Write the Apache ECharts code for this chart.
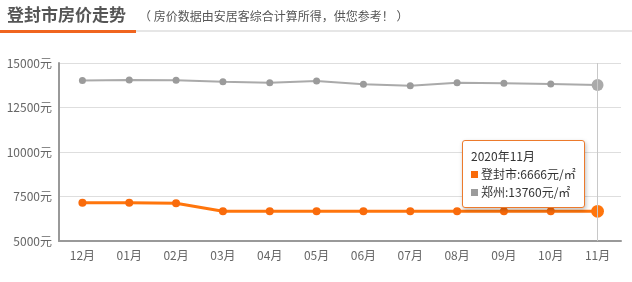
<!DOCTYPE html>
<html>
<head>
<meta charset="utf-8">
<script src="https://cdn.jsdelivr.net/npm/echarts@6/dist/echarts.min.js"></script>
<style>
  html, body { margin: 0; padding: 0; background: #fff; }
  #chart { width: 632px; height: 282px; }
</style>
</head>
<body>
<div id="chart"></div>
<script>
// Monthly average price per m², Dec 2019 – Nov 2020
var months = ['12月', '01月', '02月', '03月', '04月', '05月', '06月', '07月', '08月', '09月', '10月', '11月'];
var dengfeng = [7150, 7150, 7120, 6670, 6666, 6666, 6666, 6666, 6666, 6666, 6666, 6666];
var zhengzhou = [14010, 14050, 14030, 13950, 13890, 13990, 13800, 13720, 13890, 13860, 13820, 13760];
var yTicks = [5000, 7500, 10000, 12500, 15000];
var seriesNames = ['登封市', '郑州'];
var tipTitle = '2020年11月';
var headline = '登封市房价走势';
var note = '（ 房价数据由安居客综合计算所得，供您参考！ ）';

var FONT = '"Noto Sans CJK SC", "Noto Sans", sans-serif';
var ORANGE = '#f96b0b';
var GRAY = '#9b9b9b';

var chart = echarts.init(document.getElementById('chart'), null, { renderer: 'canvas' });

chart.setOption({
  animation: false,
  textStyle: { fontFamily: FONT },
  graphic: [
    { type: 'rect', shape: { x: 0, y: 30, width: 632, height: 2 }, style: { fill: '#e6e6e6' } },
    { type: 'rect', shape: { x: 0, y: 30, width: 136, height: 3 }, style: { fill: '#f0651f' } },
    {
      type: 'text', left: 7, top: 6,
      style: { text: headline, font: 'bold 17px ' + FONT, fill: '#555' }
    },
    {
      type: 'text', left: 139, top: 10,
      style: { text: note, font: '12px ' + FONT, fill: '#555' }
    }
  ],
  grid: { left: 59, right: 11, top: 63, bottom: 41 },
  tooltip: {
    trigger: 'axis',
    alwaysShowContent: true,
    renderMode: 'html',
    backgroundColor: '#fff',
    borderColor: '#ec7a2c',
    borderWidth: 1,
    padding: [6, 8],
    extraCssText: 'border-radius:3px;box-shadow:1px 2px 4px rgba(0,0,0,0.25);',
    textStyle: { fontFamily: FONT, fontSize: 12, color: '#333' },
    axisPointer: { type: 'line', lineStyle: { color: '#c8c8c8', width: 1, type: 'solid' } },
    position: function () { return [462, 140]; },
    formatter: function (params) {
      var html = '<div style="line-height:18px">' + tipTitle + '</div>';
      params.forEach(function (p) {
        html += '<div style="line-height:18px"><span style="display:inline-block;width:7px;height:7px;background:' +
          p.color + ';margin-right:3px;vertical-align:1px"></span>' + p.seriesName + ':' + p.value + '元/㎡</div>';
      });
      return html;
    }
  },
  xAxis: {
    type: 'category',
    data: months,
    boundaryGap: true,
    axisLine: { lineStyle: { color: '#999', width: 2 } },
    axisTick: { show: false },
    axisLabel: { color: '#666', fontSize: 12, margin: 8, fontFamily: FONT },
    splitLine: { show: false }
  },
  yAxis: {
    type: 'value',
    min: yTicks[0],
    max: yTicks[yTicks.length - 1],
    interval: yTicks[1] - yTicks[0],
    axisLine: { show: true, lineStyle: { color: '#999', width: 2 } },
    axisTick: { show: false },
    axisLabel: {
      color: '#666', fontSize: 12, margin: 7, fontFamily: FONT,
      formatter: function (v) { return v + '元'; }
    },
    splitLine: { lineStyle: { color: '#dedede', width: 1 } }
  },
  series: [
    {
      name: seriesNames[0],
      type: 'line',
      data: dengfeng,
      symbol: 'circle',
      symbolSize: 8,
      itemStyle: { color: ORANGE },
      lineStyle: { color: ORANGE, width: 3 },
      emphasis: { scale: 1.6 }
    },
    {
      name: seriesNames[1],
      type: 'line',
      data: zhengzhou,
      symbol: 'circle',
      symbolSize: 7,
      itemStyle: { color: GRAY },
      lineStyle: { color: GRAY, width: 2 },
      emphasis: { scale: 1.7 }
    }
  ]
});

chart.dispatchAction({ type: 'showTip', seriesIndex: 0, dataIndex: months.length - 1 });
</script>
</body>
</html>
